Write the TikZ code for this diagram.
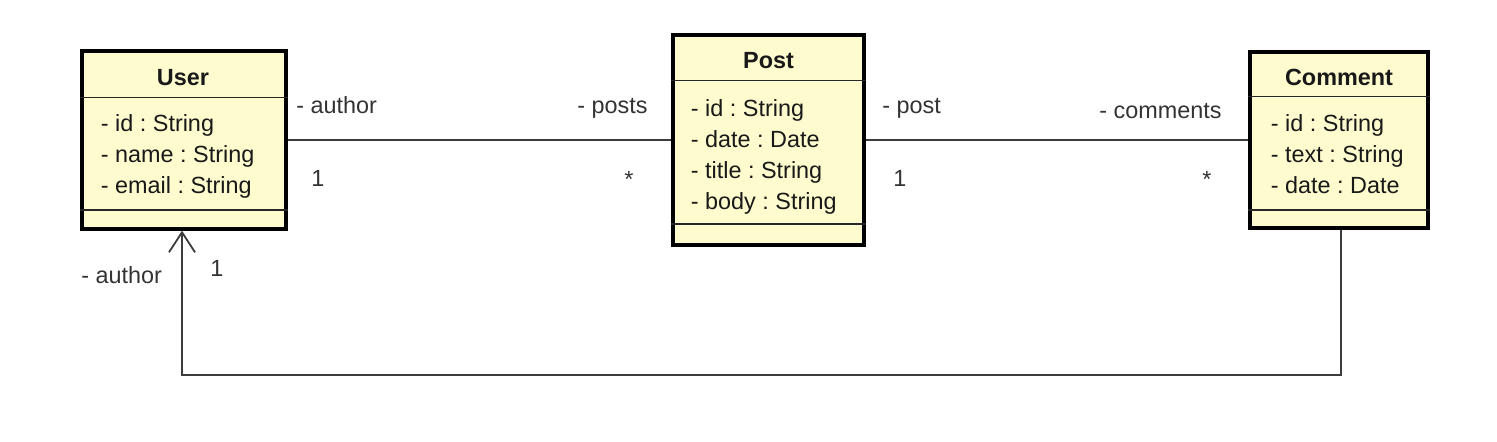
\documentclass[tikz,border=0pt]{standalone}
\usepackage{fontspec}
\setmainfont{Liberation Sans}
\usetikzlibrary{positioning, arrows.meta}
\frenchspacing

\definecolor{classfill}{RGB}{254,252,206}
\definecolor{linegray}{RGB}{60,60,60}

\begin{document}
\begin{tikzpicture}[x=0.5pt, y=-0.5pt,
  classbox/.style={draw=black, line width=1.6pt, fill=classfill, inner sep=0pt},
  sepline/.style={draw=black!85, line width=0.9pt},
  classname/.style={font=\fontsize{11.7}{14}\selectfont\bfseries, text=black!90, inner sep=0pt, anchor=base},
  attrs/.style={font=\fontsize{11.7}{15.5}\selectfont, text=black!90, align=left, inner sep=0pt, anchor=north west},
  role/.style={font=\fontsize{11.7}{14}\selectfont, text=black!80, inner sep=0pt, anchor=base west},
  assoc/.style={draw=linegray, line width=0.9pt}]
  \useasboundingbox (0,0) rectangle (1497,441);

  \node[classbox, minimum width=102pt, minimum height=89pt] (user) at (184,140) {};
  \node[classbox, minimum width=95.5pt, minimum height=105pt] (post) at (768.5,140) {};
  \node[classbox, minimum width=89pt, minimum height=88pt] (comment) at (1339,140) {};

  \draw[sepline] ([yshift=-24pt]user.north west) -- ([yshift=-24pt]user.north east);
  \draw[sepline] ([yshift=10.5pt]user.south west) -- ([yshift=10.5pt]user.south east);
  \draw[sepline] ([yshift=-23.5pt]post.north west) -- ([yshift=-23.5pt]post.north east);
  \draw[sepline] ([yshift=11.5pt]post.south west) -- ([yshift=11.5pt]post.south east);
  \draw[sepline] ([yshift=-23pt]comment.north west) -- ([yshift=-23pt]comment.north east);
  \draw[sepline] ([yshift=10pt]comment.south west) -- ([yshift=10pt]comment.south east);

  \node[classname] (userName) at (183,85) {User};
  \node[classname] (postName) at (768.5,68.3) {Post};
  \node[classname] (commentName) at (1339,85) {Comment};

  \node[attrs] (userAttrs) at (100.5,114.5) {- id : String\\- name : String\\- email : String};
  \node[attrs] (postAttrs) at (690.5,99.5) {- id : String\\- date : Date\\- title : String\\- body : String};
  \node[attrs] (commentAttrs) at (1270.5,114.5) {- id : String\\- text : String\\- date : Date};

  \draw[assoc] (user) -- (post);
  \draw[assoc] (post) -- (comment);
  \coordinate (bend) at (0,375);
  \draw[assoc, -{Straight Barb[length=10pt, width=13pt]}] ([xshift=0.8pt]comment.south) -- ([xshift=0.8pt]comment.south |- bend)
    -- ([xshift=-1pt]user.south |- bend) -- ([xshift=-1pt]user.south);

  \node[role] (userAuthor) at (296,113.3) {- author};
  \node[role] (userOne) at (311,186.7) {1};
  \node[role] (postPosts) at (577,113.3) {- posts};
  \node[role, anchor=base] (postMany) at (629,187) {*};
  \node[role] (postPost) at (882,113.3) {- post};
  \node[role] (postOne) at (893,186.7) {1};
  \node[role] (commentComments) at (1099,118) {- comments};
  \node[role, anchor=base] (commentMany) at (1207,187) {*};
  \node[role] (commentAuthor) at (81,283.3) {- author};
  \node[role] (commentOne) at (210,276.7) {1};
\end{tikzpicture}
\end{document}
